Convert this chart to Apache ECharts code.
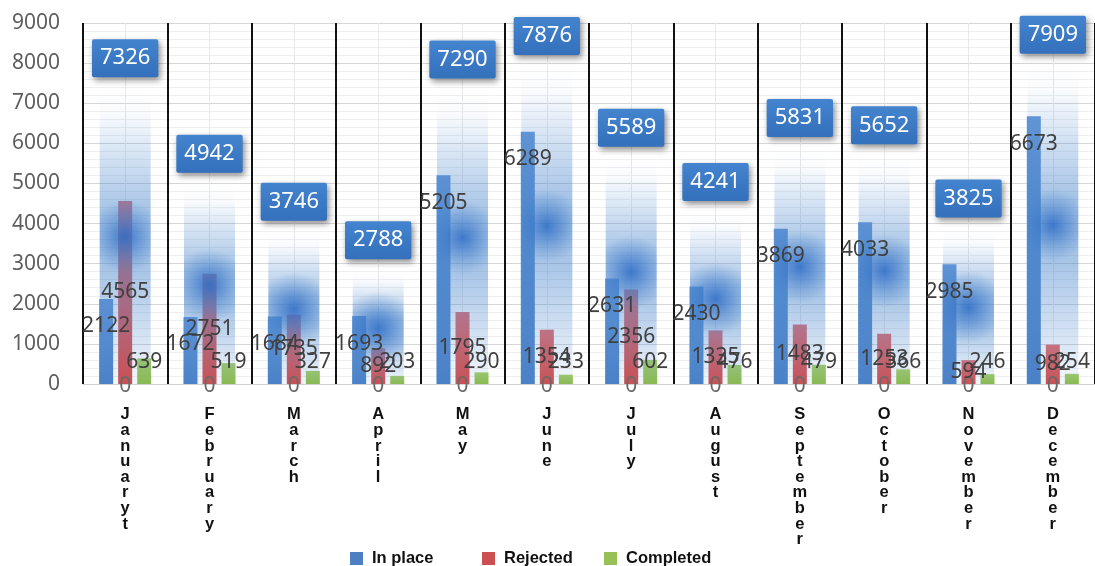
<!DOCTYPE html>
<html>
<head>
<meta charset="utf-8">
<script src="https://cdn.jsdelivr.net/npm/echarts@6/dist/echarts.min.js"></script>
<style>
  html, body { margin: 0; padding: 0; background: #ffffff; }
  #chart { width: 1095px; height: 566px; }
</style>
</head>
<body>
<div id="chart"></div>
<script>
// Monthly request counts by status
const months = ['Januaryt', 'February', 'March', 'April', 'May', 'June', 'July', 'August', 'September', 'October', 'November', 'December'];
const inPlace = [2122, 1672, 1684, 1693, 5205, 6289, 2631, 2430, 3869, 4033, 2985, 6673];
const rejected = [4565, 2751, 1735, 892, 1795, 1354, 2356, 1335, 1483, 1253, 594, 982];
const completed = [639, 519, 327, 203, 290, 233, 602, 476, 479, 366, 246, 254];
const totals = [7326, 4942, 3746, 2788, 7290, 7876, 5589, 4241, 5831, 5652, 3825, 7909];
const baseRow = [0, 0, 0, 0, 0, 0, 0, 0, 0, 0, 0, 0];
const yTicks = { min: 0, max: 9000, step: 1000 };

const NUM_FONT = 'Noto Sans';
const BAR_W = 14;
const BAR_GAP = '36%';
const GLOW_W = 51;

function vgrad(top, bottom) {
  return new echarts.graphic.LinearGradient(0, 0, 0, 1, [
    { offset: 0, color: top },
    { offset: 1, color: bottom }
  ]);
}

const valueLabel = (position, distance) => ({
  show: true,
  position: position,
  distance: distance,
  color: '#404040',
  fontFamily: NUM_FONT,
  fontSize: 21,
  textBorderWidth: 0
});

const chart = echarts.init(document.getElementById('chart'), null, { renderer: 'canvas' });

const categoryAxisHidden = {
  type: 'category',
  data: months,
  show: false,
  boundaryGap: true
};

chart.setOption({
  backgroundColor: '#ffffff',
  animation: false,
  grid: { left: 83, top: 23, width: 1018, height: 361, containLabel: false },
  legend: [
    { data: [{ name: 'In place', itemStyle: { color: '#4d7fc2' } }], left: 345 },
    { data: [{ name: 'Rejected', itemStyle: { color: '#cc5050' } }], left: 477 },
    { data: [{ name: 'Completed', itemStyle: { color: '#97c057' } }], left: 599 }
  ].map(l => Object.assign({
    top: 545,
    icon: 'rect',
    itemWidth: 13,
    itemHeight: 13,
    selectedMode: false,
    textStyle: { fontFamily: 'Liberation Sans', fontWeight: 'bold', fontSize: 16.5, color: '#111111', padding: [0, 0, 0, 4] }
  }, l)),
  xAxis: [
    {
      // visible month axis with black separators between months
      type: 'category',
      data: months,
      boundaryGap: true,
      z: 1,
      axisLine: { show: true, lineStyle: { color: '#d0d0d0', width: 1 } },
      axisTick: { show: false },
      splitLine: { show: true, lineStyle: { color: '#111111', width: 2 } },
      axisLabel: {
        interval: 0,
        margin: 23,
        fontFamily: 'Liberation Sans',
        fontWeight: 'bold',
        fontSize: 16.5,
        lineHeight: 15.6,
        color: '#111111',
        verticalAlign: 'top',
        formatter: v => v.split('').join('\n')
      }
    },
    Object.assign({}, categoryAxisHidden),
    Object.assign({}, categoryAxisHidden),
    {
      // faint guides through the middle of each month
      type: 'value',
      min: 0,
      max: 24,
      interval: 1,
      z: 0,
      axisLine: { show: false },
      axisTick: { show: false },
      axisLabel: { show: false },
      splitLine: { show: true, lineStyle: { color: '#e8e8e8', width: 1 } }
    }
  ],
  yAxis: {
    type: 'value',
    min: yTicks.min,
    max: yTicks.max,
    interval: yTicks.step,
    axisLine: { show: false },
    axisTick: { show: false },
    axisLabel: { margin: 23, fontFamily: NUM_FONT, fontSize: 21, color: '#5f5f5f', formatter: v => String(v) },
    splitLine: { show: true, lineStyle: { color: '#d6d6d6', width: 1 } },
    minorTick: { show: false, splitNumber: 5 },
    minorSplitLine: { show: true, lineStyle: { color: '#efefef', width: 1 } }
  },
  series: [
    // status bars
    {
      name: 'In place', type: 'bar', xAxisIndex: 0, data: inPlace, z: 2,
      barWidth: BAR_W, barGap: BAR_GAP,
      itemStyle: { color: vgrad('#6396d6', '#4a80c6') }
    },
    {
      name: 'Rejected', type: 'bar', xAxisIndex: 0, data: rejected, z: 2,
      barWidth: BAR_W, barGap: BAR_GAP,
      itemStyle: { color: vgrad('#e36b6b', '#d24c4c') }
    },
    {
      name: 'Completed', type: 'bar', xAxisIndex: 0, data: completed, z: 2,
      barWidth: BAR_W, barGap: BAR_GAP,
      itemStyle: { color: vgrad('#a3cd65', '#8dbd4a') }
    },
    // soft column behind each month, topped by the month total
    {
      name: 'Total', type: 'bar', xAxisIndex: 1, data: totals, z: 3, silent: true,
      barWidth: GLOW_W, barGap: '-100%',
      itemStyle: {
        color: new echarts.graphic.LinearGradient(0, 0, 0, 1, [
          { offset: 0, color: 'rgba(80,138,208,0)' },
          { offset: 0.08, color: 'rgba(80,138,208,0.04)' },
          { offset: 0.22, color: 'rgba(80,138,208,0.24)' },
          { offset: 0.42, color: 'rgba(74,134,204,0.5)' },
          { offset: 0.62, color: 'rgba(74,134,204,0.48)' },
          { offset: 0.88, color: 'rgba(80,138,208,0.2)' },
          { offset: 1, color: 'rgba(80,138,208,0.07)' }
        ])
      },
      label: {
        show: true,
        position: 'top',
        distance: 13,
        color: '#ffffff',
        fontFamily: NUM_FONT,
        fontSize: 22,
        lineHeight: 24,
        padding: [7, 8],
        backgroundColor: new echarts.graphic.LinearGradient(0, 0, 0, 1, [
          { offset: 0, color: '#4484cf' },
          { offset: 1, color: '#3470bb' }
        ]),
        borderRadius: 2,
        shadowColor: 'rgba(0,0,0,0.45)',
        shadowBlur: 6,
        shadowOffsetX: 2,
        shadowOffsetY: 3
      }
    },
    {
      name: 'Total glow', type: 'bar', xAxisIndex: 1, data: totals, z: 4, silent: true,
      barWidth: GLOW_W, barGap: '-100%',
      itemStyle: {
        color: new echarts.graphic.RadialGradient(0.5, 0.5, 0.72, [
          { offset: 0, color: 'rgba(44,108,198,0.85)' },
          { offset: 0.35, color: 'rgba(54,116,200,0.58)' },
          { offset: 1, color: 'rgba(74,134,204,0)' }
        ])
      }
    },
    {
      name: 'Base', type: 'bar', xAxisIndex: 1, data: baseRow, z: 5, silent: true,
      barWidth: GLOW_W, barGap: '-100%',
      itemStyle: { color: 'rgba(0,0,0,0)' },
      label: {
        show: true, position: 'inside', offset: [0, 2],
        color: '#6a6a6a', fontFamily: NUM_FONT, fontSize: 21, textBorderWidth: 0,
        formatter: p => String(p.value)
      }
    },
    // value labels, kept above the soft columns
    {
      name: 'In place value', type: 'bar', xAxisIndex: 2, data: inPlace, z: 6, silent: true,
      barWidth: BAR_W, barGap: BAR_GAP,
      itemStyle: { color: 'rgba(0,0,0,0)' },
      label: valueLabel('insideTop', 17)
    },
    {
      name: 'Rejected value', type: 'bar', xAxisIndex: 2, data: rejected, z: 6, silent: true,
      barWidth: BAR_W, barGap: BAR_GAP,
      itemStyle: { color: 'rgba(0,0,0,0)' },
      label: valueLabel('inside', 0)
    },
    {
      name: 'Completed value', type: 'bar', xAxisIndex: 2, data: completed, z: 6, silent: true,
      barWidth: BAR_W, barGap: BAR_GAP,
      itemStyle: { color: 'rgba(0,0,0,0)' },
      label: valueLabel('insideBottom', 11)
    }
  ]
});
</script>
</body>
</html>
